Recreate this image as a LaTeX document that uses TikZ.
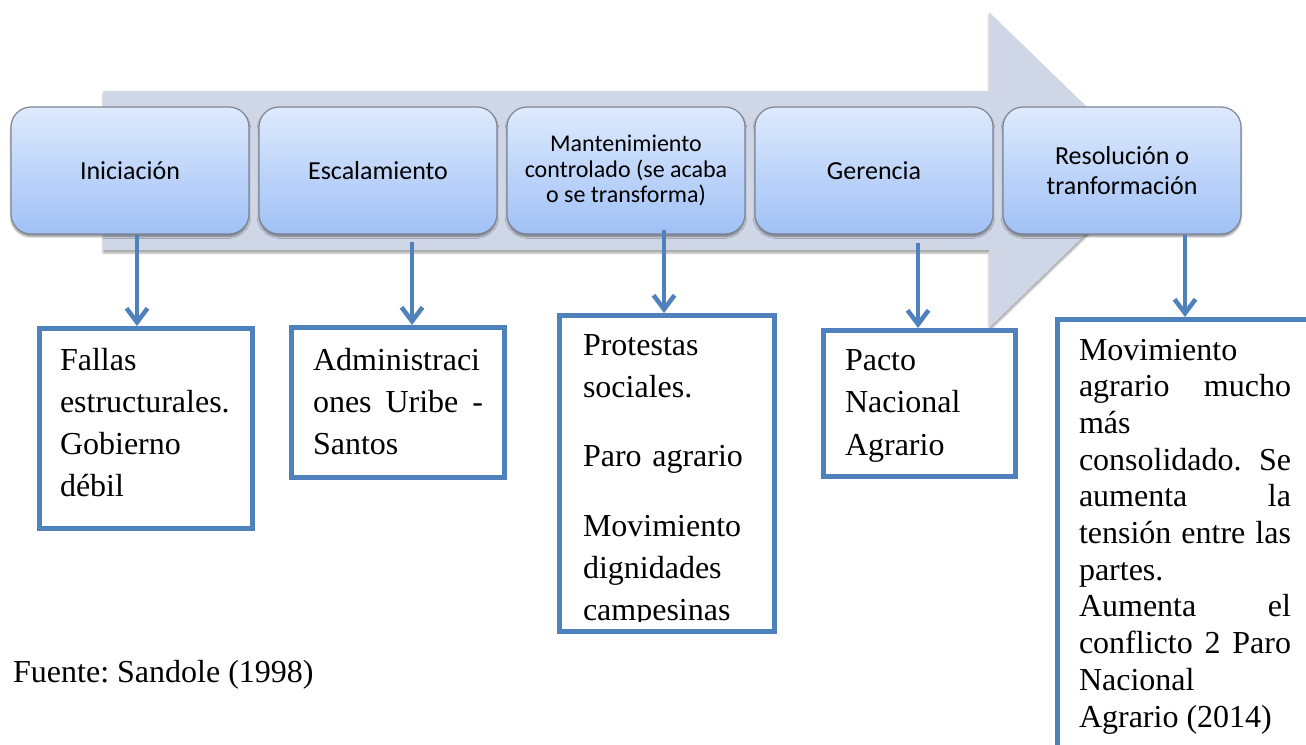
\documentclass[tikz,border=0pt]{standalone}
\usepackage{fontspec}
\setmainfont{Liberation Serif}
\newfontfamily\carlito{Carlito}
\usetikzlibrary{arrows.meta,shadows.blur}
\frenchspacing

\definecolor{arrowgrey}{RGB}{207,214,229}
\definecolor{stagetop}{RGB}{222,234,253}
\definecolor{stagebot}{RGB}{160,193,246}
\definecolor{stageline}{RGB}{125,133,150}
\definecolor{outblue}{RGB}{79,129,189}

\begin{document}
\begin{tikzpicture}[x=1pt,y=-1pt,
    stagebox/.style={rounded corners=20pt, draw=stageline, line width=1.2pt,
        top color=stagetop, bottom color=stagebot, minimum width=238pt, minimum height=127pt,
        align=center, blur shadow={shadow xshift=0pt, shadow yshift=-2.5pt, shadow blur steps=6, shadow opacity=45}},
    outbox/.style={draw=outblue, line width=5pt, fill=white, anchor=north west, inner ysep=0pt, align=left},
    conn/.style={outblue, line width=4.5pt, -{Straight Barb[length=14pt,width=21pt]},
        preaction={draw=black!35, transform canvas={xshift=1pt,yshift=-1.5pt}}}]
    \useasboundingbox (0,0) rectangle (1306,744);
    % big grey arrow behind the stages
    \fill[arrowgrey, blur shadow={shadow xshift=0pt, shadow yshift=-3pt, shadow opacity=35}]
        (103,91) -- (989,91) -- (989,12) -- (1152,170) -- (989,328) -- (989,250) -- (103,250) -- cycle;
    % stages
    \foreach \name/\fs/\bs/\txt [count=\i from 0] in {ini/26/30/Iniciación, esc/26/30/Escalamiento,
            man/24/25.5/{Mantenimiento\\controlado (se acaba\\o se transforma)}, ger/26/30/Gerencia,
            res/26/30/{Resolución o\\tranformación}}
        \node[stagebox, font=\carlito\fontsize{\fs}{\bs}\selectfont] (\name) at (130+248*\i,170.5) {\txt};
    % boxes below
    \node[outbox, text width=172pt, inner xsep=20.5pt, text height=41.5pt, text depth=158.5pt,
        font=\fontsize{32}{42}\selectfont] (fallas) at (37,326) {Fallas\\estructurales.\\Gobierno\\débil};
    \node[outbox, align=justify, text width=170pt, inner xsep=21.5pt, text height=42.5pt, text depth=107.5pt,
        font=\fontsize{32}{42}\selectfont] (admin) at (289,325) {Administraci\\ones Uribe -\linebreak Santos};
    \begin{scope}[even odd rule]
        \clip (0,0) rectangle (1306,744) (562,621) rectangle (772,629);
        \node[outbox, text width=168pt, inner xsep=23.5pt, text height=39.5pt, text depth=276.5pt,
            font=\fontsize{32}{42}\selectfont] (prot) at (557,313)
            {Protestas\\sociales.\\[27.5pt]Paro agrario\\[27.5pt]Movimiento\\dignidades\\campesinas};
    \end{scope}
    \node[outbox, text width=149pt, inner xsep=21.5pt, text height=39.5pt, text depth=106.5pt,
        font=\fontsize{32}{42.5}\selectfont] (pacto) at (821,328) {Pacto\\Nacional\\Agrario};
    \node[outbox, align=justify, text width=212pt, inner xsep=21.5pt, text height=40.5pt, text depth=500pt,
        font=\fontsize{32}{36.7}\selectfont] (mov) at (1055,317)
        {Movimiento\\agrario mucho\linebreak más\\consolidado. Se\linebreak aumenta la\linebreak
         tensión entre las\linebreak partes.\\Aumenta el\linebreak conflicto 2 Paro\linebreak Nacional\\Agrario (2014)};
    \node[anchor=base west, inner sep=0pt, font=\fontsize{32}{38}\selectfont] (fuente) at (13,682) {Fuente: Sandole (1998)};
    % connectors
    \draw[conn] ([xshift=7pt]ini.south) -- ([xshift=7pt]ini.south |- fallas.north);
    \draw[conn] ([xshift=34pt,yshift=-7pt]esc.south) -- ([xshift=34pt]esc.south |- admin.north);
    \draw[conn] ([xshift=38pt,yshift=5pt]man.south) -- ([xshift=38pt]man.south |- prot.north);
    \draw[conn] ([xshift=44pt,yshift=-8pt]ger.south) -- ([xshift=44pt]ger.south |- pacto.north);
    \draw[conn] ([xshift=63pt]res.south) -- ([xshift=63pt]res.south |- mov.north);
\end{tikzpicture}
\end{document}
